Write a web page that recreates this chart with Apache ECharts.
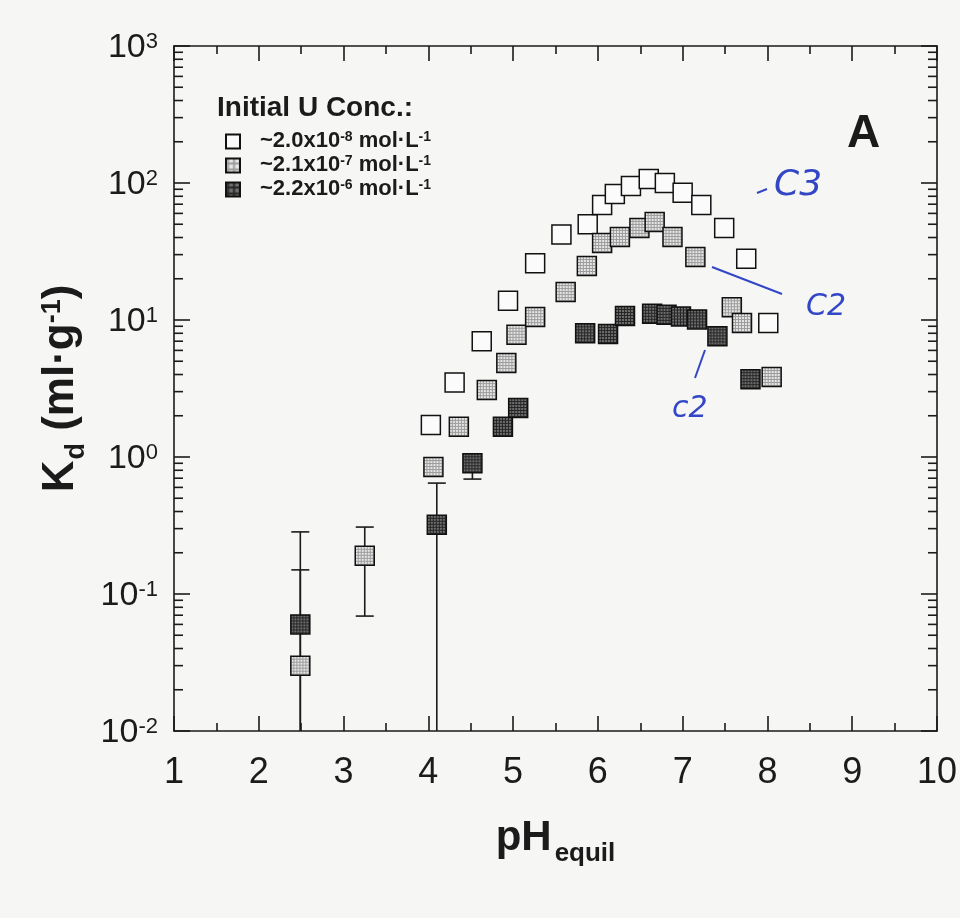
<!DOCTYPE html>
<html>
<head>
<meta charset="utf-8">
<script src="https://cdn.jsdelivr.net/npm/echarts@6/dist/echarts.min.js"></script>
<style>
html,body{margin:0;padding:0;background:#f6f6f5;}
#c{width:960px;height:918px;}
</style>
</head>
<body>
<div id="c"></div>
<script>
// ---------------- data ----------------
// Initial U ~2.0e-8 mol/L (open squares)
const pH_c1 = [4.03, 4.31, 4.63, 4.94, 5.26, 5.57, 5.88, 6.05, 6.20, 6.39, 6.60, 6.79, 7.00, 7.22, 7.49, 7.75, 8.01];
const kd_c1 = [1.71, 3.5, 7.0, 13.8, 26, 42, 50, 69, 83, 95, 107, 100, 85, 69, 47, 28, 9.5];
// Initial U ~2.1e-7 mol/L (light stippled squares)
const pH_c2 = [2.49, 3.25, 4.06, 4.36, 4.69, 4.92, 5.04, 5.26, 5.62, 5.87, 6.05, 6.26, 6.49, 6.67, 6.88, 7.15, 7.58, 7.70, 8.05];
const kd_c2 = [0.030, 0.19, 0.845, 1.66, 3.08, 4.85, 7.8, 10.5, 16, 24.8, 36.5, 40.4, 47, 52, 40.4, 28.8, 12.4, 9.5, 3.84];
// Initial U ~2.2e-6 mol/L (dark stippled squares)
const pH_c3 = [2.49, 4.10, 4.52, 4.88, 5.06, 5.85, 6.12, 6.32, 6.64, 6.81, 6.98, 7.17, 7.41, 7.80];
const kd_c3 = [0.060, 0.32, 0.90, 1.66, 2.28, 8.0, 7.9, 10.7, 11.1, 10.9, 10.6, 10.1, 7.6, 3.7];
// error bars (low value at the axis minimum means the bar runs off the axis)
const err_pH   = [2.49, 2.49, 3.25, 4.10, 4.52];
const err_low  = [0.01, 0.01, 0.069, 0.01, 0.69];
const err_high = [0.284, 0.150, 0.308, 0.645, 0.90];

const seriesNames = ['~2.0x10-8 mol·L-1', '~2.1x10-7 mol·L-1', '~2.2x10-6 mol·L-1'];
const legendBase = ['~2.0x10', '~2.1x10', '~2.2x10'];
const legendExp  = ['-8', '-7', '-6'];

const X_MIN = 1, X_MAX = 10, Y_MIN = 0.01, Y_MAX = 1000;
const yMinorTicks = [];
for (let e = -2; e < 3; e++) for (let k = 2; k < 10; k++) yMinorTicks.push(k * Math.pow(10, e));

// ---------------- style ----------------
const FONT = '"Liberation Sans", Arial, Helvetica, sans-serif';
const INK = '#1b1b1b';
const SYM = 19;

function makePattern(bg, dot) {
  const c = document.createElement('canvas');
  c.width = 6; c.height = 6;
  const g = c.getContext('2d');
  g.fillStyle = bg; g.fillRect(0, 0, 6, 6);
  g.fillStyle = dot;
  for (let i = 0; i < 6; i += 3) for (let j = 0; j < 6; j += 3) g.fillRect(i, j, 2, 2);
  // symbol paths are drawn in a 2x2 unit box and scaled, so compensate
  return { image: c, repeat: 'repeat', scaleX: 2 / SYM, scaleY: 2 / SYM };
}
const fillOpen = '#fbfbfb';
const fillMid = makePattern('#9c9c9c', '#e6e6e6');
const fillHigh = makePattern('#262626', '#6e6e6e');

const zip = (a, b) => a.map((v, i) => [v, b[i]]);

const axisLineStyle = { color: INK, width: 1.6 };

function scatter(name, xs, ys, fill, z) {
  return {
    name: name, type: 'scatter', data: zip(xs, ys),
    symbol: 'rect', symbolSize: SYM, z: z,
    itemStyle: { color: fill, borderColor: '#111', borderWidth: 1.5, opacity: 1 },
    emphasis: { disabled: true }
  };
}

const chart = echarts.init(document.getElementById('c'), null, { renderer: 'canvas' });

const option = {
  backgroundColor: '#f6f6f5',
  animation: false,
  textStyle: { fontFamily: FONT, color: INK },
  grid: { left: 174, right: 19, top: 46, bottom: 187, show: false },
  title: [
    { text: 'Initial U Conc.:', left: 217, top: 94, padding: 0,
      textStyle: { fontFamily: FONT, fontSize: 28, fontWeight: 'bold', color: INK } },
    { text: 'A', left: 847, top: 111, padding: 0,
      textStyle: { fontFamily: FONT, fontSize: 46, fontWeight: 'bold', color: INK } }
  ],
  legend: {
    data: seriesNames, orient: 'vertical', left: 225, top: 130, padding: 0,
    itemWidth: 14, itemHeight: 14, itemGap: 2, icon: 'rect',
    selectedMode: false,
    formatter: function (name) {
      const i = seriesNames.indexOf(name);
      return '{t|' + legendBase[i] + '}{s|' + legendExp[i] + '}{t| mol·L}{s|-1}';
    },
    textStyle: {
      fontFamily: FONT, color: INK, padding: [0, 0, 0, 15],
      rich: {
        t: { fontFamily: FONT, fontSize: 22, fontWeight: 'bold', lineHeight: 23, verticalAlign: 'top', color: INK },
        s: { fontFamily: FONT, fontSize: 14, fontWeight: 'bold', lineHeight: 14, verticalAlign: 'top', color: INK }
      }
    }
  },
  xAxis: [
    {
      type: 'value', min: X_MIN, max: X_MAX, interval: 1, position: 'bottom',
      axisLine: { show: true, lineStyle: axisLineStyle },
      axisTick: { show: true, inside: true, length: 15, lineStyle: axisLineStyle },
      minorTick: { show: true, splitNumber: 2, length: 8, lineStyle: axisLineStyle },
      splitLine: { show: false },
      axisLabel: { fontFamily: FONT, fontSize: 36, color: INK, margin: 24, showMinLabel: true, showMaxLabel: true },
      name: '{b|pH}{s|equil}', nameLocation: 'middle', nameGap: 86,
      nameTextStyle: {
        rich: {
          b: { fontFamily: FONT, fontSize: 42, fontWeight: 'bold', lineHeight: 42, verticalAlign: 'top', color: INK },
          s: { fontFamily: FONT, fontSize: 26, fontWeight: 'bold', lineHeight: 26, verticalAlign: 'top', padding: [24, 0, 0, 3], color: INK }
        }
      }
    },
    {
      type: 'value', min: X_MIN, max: X_MAX, interval: 1, position: 'top',
      axisLine: { show: true, lineStyle: axisLineStyle },
      axisTick: { show: true, inside: true, length: 15, lineStyle: axisLineStyle },
      minorTick: { show: true, splitNumber: 2, length: 8, lineStyle: axisLineStyle },
      splitLine: { show: false }, axisLabel: { show: false }
    }
  ],
  yAxis: [
    {
      type: 'log', logBase: 10, min: Y_MIN, max: Y_MAX, position: 'left',
      axisLine: { show: true, lineStyle: axisLineStyle },
      axisTick: { show: true, inside: true, length: 16, lineStyle: axisLineStyle },
      splitLine: { show: false },
      axisLabel: {
        margin: 16, showMinLabel: true, showMaxLabel: true, padding: [4, 0, 0, 0],
        formatter: function (v) {
          const e = Math.round(Math.log10(v));
          return '{b|10}{s|' + e + '}';
        },
        rich: {
          b: { fontFamily: FONT, fontSize: 34, lineHeight: 34, verticalAlign: 'top', color: INK },
          s: { fontFamily: FONT, fontSize: 22, lineHeight: 22, verticalAlign: 'top', color: INK }
        }
      },
      name: '{b|K}{d|d}{b| (ml·g}{s|-1}{b|)}', nameLocation: 'middle', nameRotate: 90, nameGap: 78,
      nameTextStyle: {
        rich: {
          b: { fontFamily: FONT, fontSize: 44, fontWeight: 'bold', lineHeight: 44, verticalAlign: 'top', color: INK },
          d: { fontFamily: FONT, fontSize: 27, fontWeight: 'bold', lineHeight: 27, verticalAlign: 'top', padding: [24, 0, 0, 1], color: INK },
          s: { fontFamily: FONT, fontSize: 27, fontWeight: 'bold', lineHeight: 27, verticalAlign: 'top', color: INK }
        }
      }
    },
    {
      type: 'log', logBase: 10, min: Y_MIN, max: Y_MAX, position: 'right',
      axisLine: { show: true, lineStyle: axisLineStyle },
      axisTick: { show: true, inside: true, length: 16, lineStyle: axisLineStyle },
      splitLine: { show: false }, axisLabel: { show: false }
    }
  ],
  graphic: [
    { type: 'line', shape: { x1: 757, y1: 193, x2: 767, y2: 189 }, style: { stroke: '#3346c6', lineWidth: 2 } },
    { type: 'text', left: 774, top: 168, style: { text: 'C3', fill: '#3346c6', font: 'italic 36px "DejaVu Sans", sans-serif' } },
    { type: 'line', shape: { x1: 712, y1: 267, x2: 782, y2: 294 }, style: { stroke: '#3346c6', lineWidth: 2 } },
    { type: 'text', left: 806, top: 292, style: { text: 'C2', fill: '#3346c6', font: 'italic 30px "DejaVu Sans", sans-serif' } },
    { type: 'line', shape: { x1: 705, y1: 350, x2: 695, y2: 378 }, style: { stroke: '#3346c6', lineWidth: 2 } },
    { type: 'text', left: 672, top: 394, style: { text: 'c2', fill: '#3346c6', font: 'italic 30px "DejaVu Sans", sans-serif' } }
  ],
  series: [
    {
      name: 'yMinorTicks', type: 'custom', silent: true, z: 1, clip: false,
      data: yMinorTicks.map(v => [X_MIN, v]),
      renderItem: function (params, api) {
        const v = api.value(1);
        const pl = api.coord([X_MIN, v]);
        const pr = api.coord([X_MAX, v]);
        const st = { stroke: INK, lineWidth: 1.6 };
        return { type: 'group', children: [
          { type: 'line', shape: { x1: pl[0], y1: pl[1], x2: pl[0] + 9, y2: pl[1] }, style: st },
          { type: 'line', shape: { x1: pr[0], y1: pr[1], x2: pr[0] - 9, y2: pr[1] }, style: st }
        ] };
      }
    },
    {
      name: 'errorBars', type: 'custom', silent: true, z: 2, clip: false,
      data: err_pH.map((x, i) => [x, err_low[i], err_high[i]]),
      encode: { x: 0, y: [1, 2] },
      renderItem: function (params, api) {
        const x = api.value(0), lo = api.value(1), hi = api.value(2);
        const pt = api.coord([x, hi]);
        const pb = api.coord([x, Math.max(lo, Y_MIN)]);
        const w = 9;
        const st = { stroke: INK, lineWidth: 1.6 };
        const ch = [
          { type: 'line', shape: { x1: pt[0], y1: pt[1], x2: pb[0], y2: pb[1] }, style: st },
          { type: 'line', shape: { x1: pt[0] - w, y1: pt[1], x2: pt[0] + w, y2: pt[1] }, style: st }
        ];
        if (lo > Y_MIN) ch.push({ type: 'line', shape: { x1: pb[0] - w, y1: pb[1], x2: pb[0] + w, y2: pb[1] }, style: st });
        return { type: 'group', children: ch };
      }
    },
    scatter(seriesNames[0], pH_c1, kd_c1, fillOpen, 3),
    scatter(seriesNames[1], pH_c2, kd_c2, fillMid, 4),
    scatter(seriesNames[2], pH_c3, kd_c3, fillHigh, 5)
  ]
};
chart.setOption(option);
</script>
</body>
</html>
